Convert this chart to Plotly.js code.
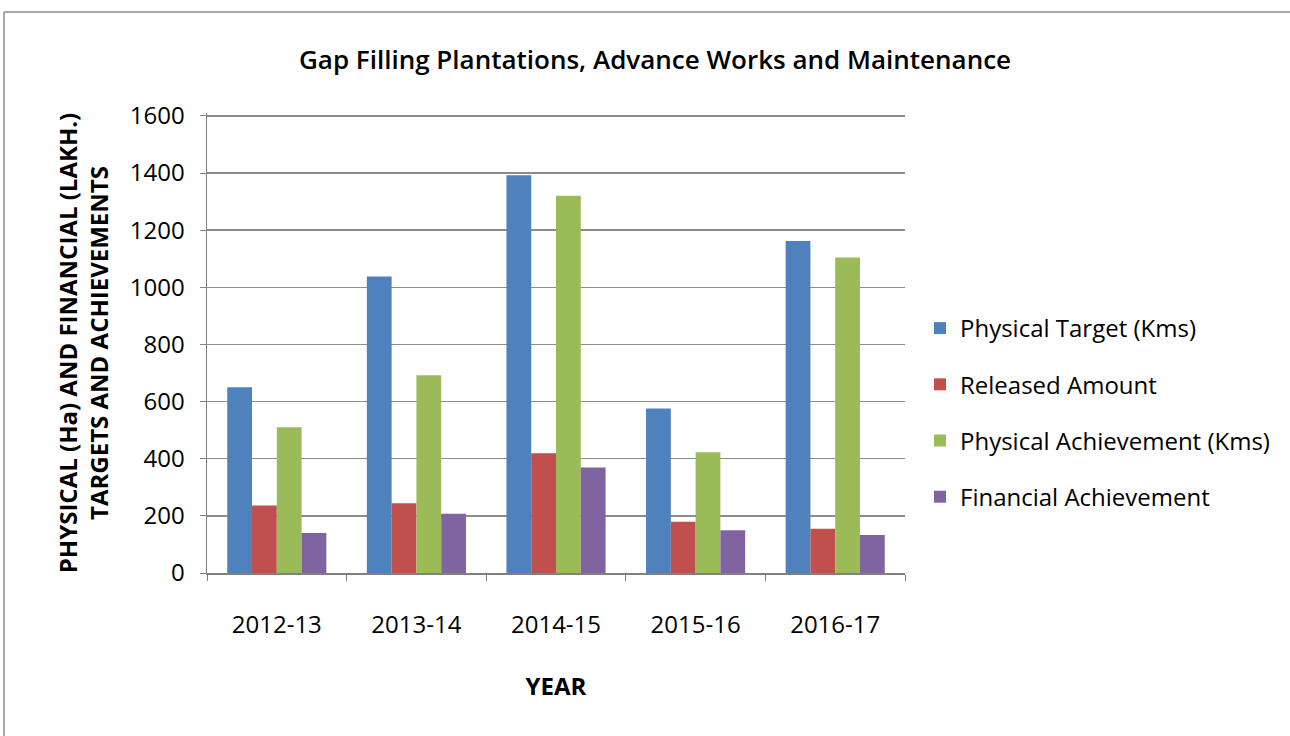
<!DOCTYPE html>
<html>
<head>
<meta charset="utf-8">
<script src="https://cdn.plot.ly/plotly-3.0.1.min.js"></script>
<style>
  html, body { margin: 0; padding: 0; background: #ffffff; }
  #chart { width: 1290px; height: 736px; }
</style>
</head>
<body>
<div id="chart"></div>
<script>
const years = ["2012-13", "2013-14", "2014-15", "2015-16", "2016-17"];
const physicalTarget = [650, 1038, 1392, 576, 1162];
const releasedAmount = [236, 244, 419, 179, 155];
const physicalAchievement = [510, 692, 1320, 423, 1104];
const financialAchievement = [140, 207, 369, 150, 133];
const seriesNames = ["Physical Target (Kms)", "Released Amount", "Physical Achievement (Kms)", "Financial Achievement"];
const seriesColors = ["#4F81BD", "#C0504D", "#9BBB59", "#8064A2"];
const yTicks = [0, 200, 400, 600, 800, 1000, 1200, 1400, 1600];

const seriesValues = [physicalTarget, releasedAmount, physicalAchievement, financialAchievement];
const FONT = "Open Sans, Liberation Sans, sans-serif";
const FS = 24;

const traces = seriesValues.map((vals, i) => ({
  type: "bar",
  name: seriesNames[i],
  x: years,
  y: vals,
  legendgroup: "g" + i,
  marker: { color: seriesColors[i], line: { width: 0 } }
}));

// Frame positions (pixels) converted to paper coords
const L = 207, R = 385, T = 113, B = 163, W = 1290, H = 736;
const pw = W - L - R, ph = H - T - B;
const px = p => (p - L) / pw;
const py = p => (H - B - p) / ph;

const layout = {
  width: W, height: H,
  margin: { l: L, r: R, t: T, b: B, pad: 0 },
  paper_bgcolor: "#ffffff",
  plot_bgcolor: "#ffffff",
  font: { family: FONT, color: "#000000", size: FS },
  title: {
    text: "Gap Filling Plantations, Advance Works and Maintenance",
    font: { family: FONT, size: 26, color: "#000000", weight: 600 },
    x: 655 / W, xanchor: "center",
    y: 1 - 60 / H, yanchor: "middle"
  },
  barmode: "group",
  bargap: 0.29,
  bargroupgap: 0,
  showlegend: true,
  legend: {
    x: px(920), xanchor: "left",
    y: py(306), yanchor: "top",
    font: { family: FONT, size: FS, color: "#000000" },
    tracegroupgap: 22,
    itemwidth: 30,
    bgcolor: "rgba(0,0,0,0)"
  },
  xaxis: {
    type: "category",
    showline: true, linecolor: "#808080", linewidth: 1.5,
    ticks: "outside", tickson: "boundaries", ticklen: 6, tickcolor: "#808080",
    showgrid: false,
    tickfont: { family: FONT, size: FS, color: "#000000" },
    ticklabelstandoff: 30,
    title: { text: "<b>YEAR</b>", font: { family: FONT, size: FS, color: "#000000" }, standoff: 39 },
    automargin: false,
    fixedrange: true
  },
  yaxis: {
    range: [0, 1610],
    tickvals: yTicks,
    ticktext: yTicks.map(String),
    showline: true, linecolor: "#808080", linewidth: 1.5,
    ticks: "outside", ticklen: 6, tickcolor: "#808080",
    showgrid: true, gridcolor: "#8c8c8c", gridwidth: 1.5,
    zeroline: false,
    tickfont: { family: FONT, size: FS, color: "#000000" },
    ticklabelstandoff: 10,
    title: {
      text: "<b>PHYSICAL (Ha) AND FINANCIAL (LAKH.)<br>TARGETS AND ACHIEVEMENTS</b>",
      font: { family: FONT, size: FS, color: "#000000" },
      standoff: 14
    },
    automargin: false,
    fixedrange: true
  },
  shapes: [
    { type: "line", xref: "paper", yref: "paper", x0: px(4), x1: px(1300), y0: py(12), y1: py(12), line: { color: "#8c8c8c", width: 1.5 } },
    { type: "line", xref: "paper", yref: "paper", x0: px(4), x1: px(4), y0: py(12), y1: py(750), line: { color: "#8c8c8c", width: 1.5 } }
  ]
};

Plotly.newPlot("chart", traces, layout, { displayModeBar: false, staticPlot: true });
</script>
</body>
</html>
